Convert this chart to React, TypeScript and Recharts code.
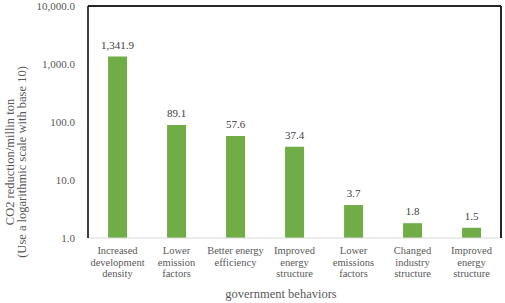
import { BarChart, Bar, XAxis, YAxis, LabelList, ReferenceLine } from 'recharts';

const categories = [
  'Increased development density',
  'Lower emission factors',
  'Better energy efficiency',
  'Improved energy structure',
  'Lower emissions factors',
  'Changed industry structure',
  'Improved energy structure',
];

// how each category label is broken into lines under the axis
const tickLines = [
  ['Increased', 'development', 'density'],
  ['Lower', 'emission', 'factors'],
  ['Better energy', 'efficiency'],
  ['Improved', 'energy', 'structure'],
  ['Lower', 'emissions', 'factors'],
  ['Changed', 'industry', 'structure'],
  ['Improved', 'energy', 'structure'],
];

const reductions = [1341.9, 89.1, 57.6, 37.4, 3.7, 1.8, 1.5];

const yTicks = [1, 10, 100, 1000, 10000];

const FONT = 'Liberation Serif';

const chartData = categories.map((name, i) => ({ name, idx: i, value: reductions[i] }));

const fmt = (v: number) =>
  v.toLocaleString('en-US', { minimumFractionDigits: 1, maximumFractionDigits: 1 });

function CategoryTick(props: any) {
  const { x, y, payload } = props;
  const lines = tickLines[payload.index] || [String(payload.value)];
  return (
    <text x={x} y={y + 8} textAnchor="middle" fill="#595959" fontSize={10.5} style={{ fontFamily: FONT }}>
      {lines.map((l: string, i: number) => (
        <tspan key={i} x={x} dy={i === 0 ? 0 : 11.5}>
          {l}
        </tspan>
      ))}
    </text>
  );
}

export default function App() {
  return (
    <div style={{ position: 'relative', width: 505, height: 303, background: '#fff', fontFamily: FONT }}>
      <style>{'body { margin: 0; }'}</style>
      <BarChart
        width={505}
        height={303}
        data={chartData}
        margin={{ top: 6, right: 0, left: 0, bottom: 0 }}
        barCategoryGap="34%"
      >
        <XAxis
          dataKey="idx"
          type="category"
          tick={<CategoryTick />}
          tickLine={false}
          axisLine={{ stroke: '#d9d9d9' }}
          height={65}
          interval={0}
        />
        <YAxis
          scale="log"
          domain={[1, 10000]}
          ticks={yTicks}
          allowDataOverflow
          tickFormatter={fmt}
          tickLine={false}
          tickMargin={7}
          axisLine={{ stroke: '#000', strokeWidth: 1.5 }}
          tick={{ fill: '#595959', fontSize: 11, style: { fontFamily: FONT } }}
          width={88}
        />
        {/* right and top edges of the plot frame */}
        <YAxis
          yAxisId="frame"
          orientation="right"
          domain={[0, 1]}
          tick={false}
          tickLine={false}
          axisLine={{ stroke: '#262626', strokeWidth: 2 }}
          width={4}
        />
        <ReferenceLine y={10000} stroke="#262626" strokeWidth={2} ifOverflow="visible" />
        <Bar dataKey="value" fill="#70ad47" isAnimationActive={false}>
          <LabelList
            dataKey="value"
            position="top"
            offset={8}
            formatter={(v: any) => fmt(Number(v))}
            style={{ fill: '#404040', fontSize: 11, fontFamily: FONT }}
          />
        </Bar>
      </BarChart>
      <svg width={505} height={303} style={{ position: 'absolute', left: 0, top: 0, pointerEvents: 'none', fontFamily: FONT }}>
        <text x={281} y={298} textAnchor="middle" fill="#595959" fontSize={12.5}>
          government behaviors
        </text>
        <text transform="translate(14,162) rotate(-90)" textAnchor="middle" fill="#595959" fontSize={12.5}>
          CO2 reduction/millin ton
        </text>
        <text transform="translate(26,162) rotate(-90)" textAnchor="middle" fill="#595959" fontSize={12.5}>
          (Use a logarithmic scale with base 10)
        </text>
      </svg>
    </div>
  );
}
